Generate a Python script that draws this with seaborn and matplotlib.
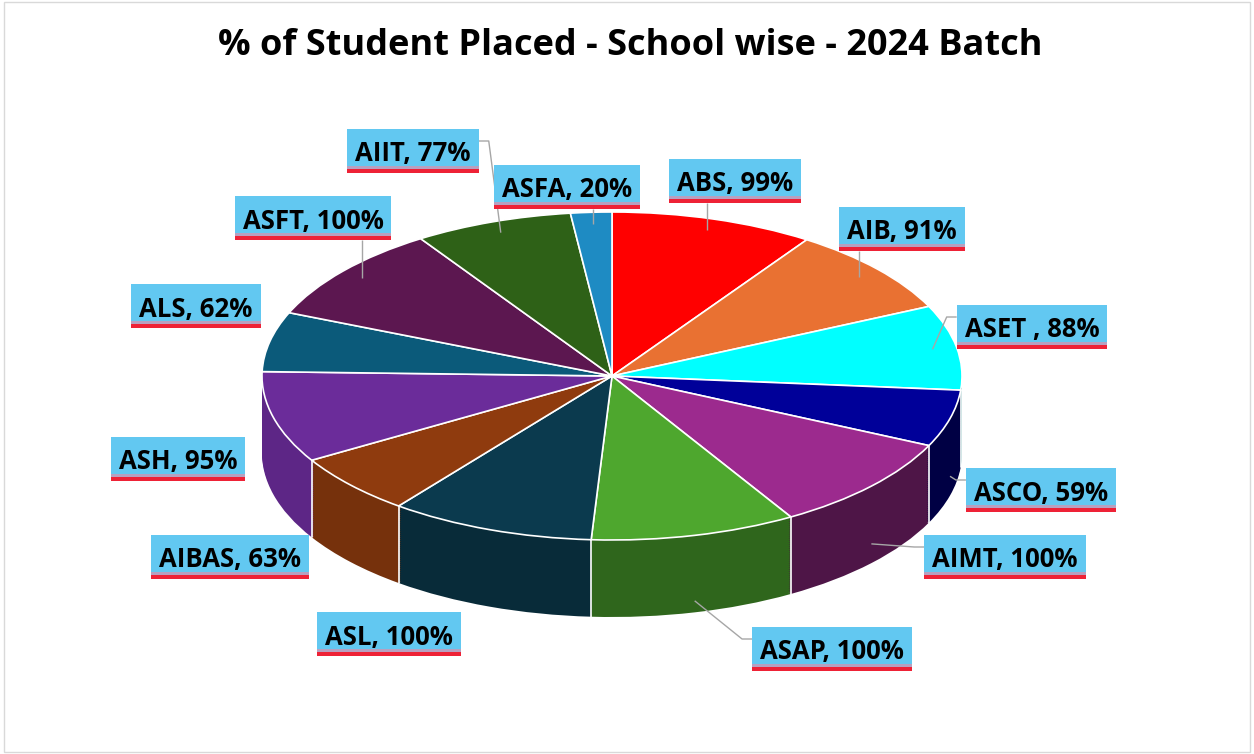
import matplotlib
matplotlib.use("Agg")

import numpy as np
import matplotlib.pyplot as plt
import matplotlib.colors as mcolors
from matplotlib.patches import Rectangle
import seaborn as sns

# placement % per school, clockwise from 12 o'clock
schools = ["ABS", "AIB", "ASET ", "ASCO", "AIMT", "ASAP", "ASL",
           "AIBAS", "ASH", "ALS", "ASFT", "AIIT", "ASFA"]
placed_pct = [99, 91, 88, 59, 100, 100, 100, 63, 95, 62, 100, 77, 20]
slice_colors = ["#FF0000", "#E97132", "#00FFFF", "#000099", "#9C2A8E",
                "#4EA72E", "#0B3A4E", "#8F3B0E", "#6B2C9A", "#0B5A7A",
                "#5C1750", "#2E6117", "#1E8BC3"]

# --- layout (pixels of the 1254x754 picture) ---
W, H = 1254, 754
CX, CY, RX, RY = 612, 376, 350, 164     # ellipse of the pie top
DEPTH = 77 / RY                        # wall height in data units
label_xy = [(735, 181), (902, 229), (1032, 327), (1041, 490), (1005, 557),
            (832, 649), (389, 634), (230, 557), (178, 459), (196, 306),
            (313, 218), (413, 151), (567, 187)]
leader_side = ["b", "b", "l", "l", "l", "l", None, None, None, None, "b", "r", "b"]
leader_drop = [0, 0, 0, 0.75, 0.75, 0.85, 0, 0, 0, 0, 0, 0, 0]


def to_data(px, py):
    return (px - CX) / RX, (CY - py) / RY


def to_px(x, y):
    return CX + x * RX, CY - y * RY


sns.set_theme(style="white")
plt.rcParams["font.family"] = ["Open Sans", "DejaVu Sans"]

fig = plt.figure(figsize=(W / 100, H / 100), dpi=100)
ax = fig.add_axes([0, 0, 1, 1])

total = sum(placed_pct)
cum = np.cumsum(placed_pct)
mid_deg = 360 * (cum - np.array(placed_pct) / 2) / total

# side walls: stacked darker pies, lighter on the left-facing side
wall_colors = []
for c, th in zip(slice_colors, mid_deg):
    f = 0.66 - 0.22 * np.sin(np.radians(th))
    wall_colors.append(tuple(np.array(mcolors.to_rgb(c)) * f))

n_layers = 40
for k in range(n_layers, 0, -1):
    ax.pie(placed_pct, colors=wall_colors, startangle=90, counterclock=False,
           center=(0, -DEPTH * k / n_layers), frame=False,
           wedgeprops=dict(linewidth=0, antialiased=True))

# white seams on the visible wall
for c in cum[:-1]:
    th = np.radians(360 * c / total)
    if np.cos(th) < 0:
        x, y = np.sin(th), np.cos(th)
        ax.plot([x, x], [y, y - DEPTH], color="white", lw=1.2, zorder=3)

# top face
ax.pie(placed_pct, colors=slice_colors, startangle=90, counterclock=False,
       center=(0, 0), frame=False,
       wedgeprops=dict(edgecolor="white", linewidth=1.2))

ax.set_aspect("auto")
ax.set_xlim(to_data(0, 0)[0], to_data(W, 0)[0])
ax.set_ylim(to_data(0, H)[1], to_data(0, 0)[1])
ax.axis("off")

# data labels
texts = []
for name, v, (px, py) in zip(schools, placed_pct, label_xy):
    x, y = to_data(px, py)
    t = ax.text(x, y, f"{name}, {v}%", ha="center", va="center_baseline",
                fontsize=18.5, fontweight="bold", color="black", zorder=12)
    texts.append(t)

fig.canvas.draw()
renderer = fig.canvas.get_renderer()


def px_rect(x0, y0, w, h, **kw):
    # rectangle given in picture pixels (top-left origin)
    (dx0, dy0) = to_data(x0, y0 + h)
    (dx1, dy1) = to_data(x0 + w, y0)
    ax.add_patch(Rectangle((dx0, dy0), dx1 - dx0, dy1 - dy0, **kw))


for i, t in enumerate(texts):
    px, py = label_xy[i]
    bb = t.get_window_extent(renderer)
    hw, hh = bb.width / 2 + 8, 22
    px_rect(px - hw, py - hh, 2 * hw, 2 * hh, facecolor="#62C8F1",
            edgecolor="none", zorder=10)
    px_rect(px - hw, py + hh - 7, 2 * hw, 3, facecolor="#B8A0C0",
            edgecolor="none", zorder=11)
    px_rect(px - hw, py + hh - 4, 2 * hw, 4, facecolor="#EE2236",
            edgecolor="none", zorder=11)

    side = leader_side[i]
    if side is None:
        continue
    th = np.radians(mid_deg[i])
    if leader_drop[i] > 0:
        tx, ty = to_px(np.sin(th), np.cos(th) - leader_drop[i] * DEPTH)
    else:
        tx, ty = to_px(0.93 * np.sin(th), 0.93 * np.cos(th))
    if side == "b":
        sx = min(max(tx, px - hw + 8), px + hw - 8)
        pts = [(sx, py + hh), (tx, ty)]
    elif side == "l":
        pts = [(px - hw, py - 10), (px - hw - 10, py - 10), (tx, ty)]
    else:
        pts = [(px + hw, py - 10), (px + hw + 10, py - 10), (tx, ty)]
    dpts = [to_data(a, b) for a, b in pts]
    ax.plot([p[0] for p in dpts], [p[1] for p in dpts], color="#A6A6A6",
            lw=1, zorder=9, solid_capstyle="butt")

fig.text(630 / W, 1 - 46 / H, "% of Student Placed - School wise - 2024 Batch",
         ha="center", va="center", fontsize=26, fontweight="bold", color="black")

fig.add_artist(Rectangle((4 / W, 2 / H), (W - 8) / W, (H - 4) / H,
                         transform=fig.transFigure, fill=False,
                         edgecolor="#D9D9D9", lw=1))

fig.savefig("out.png", dpi=100)
